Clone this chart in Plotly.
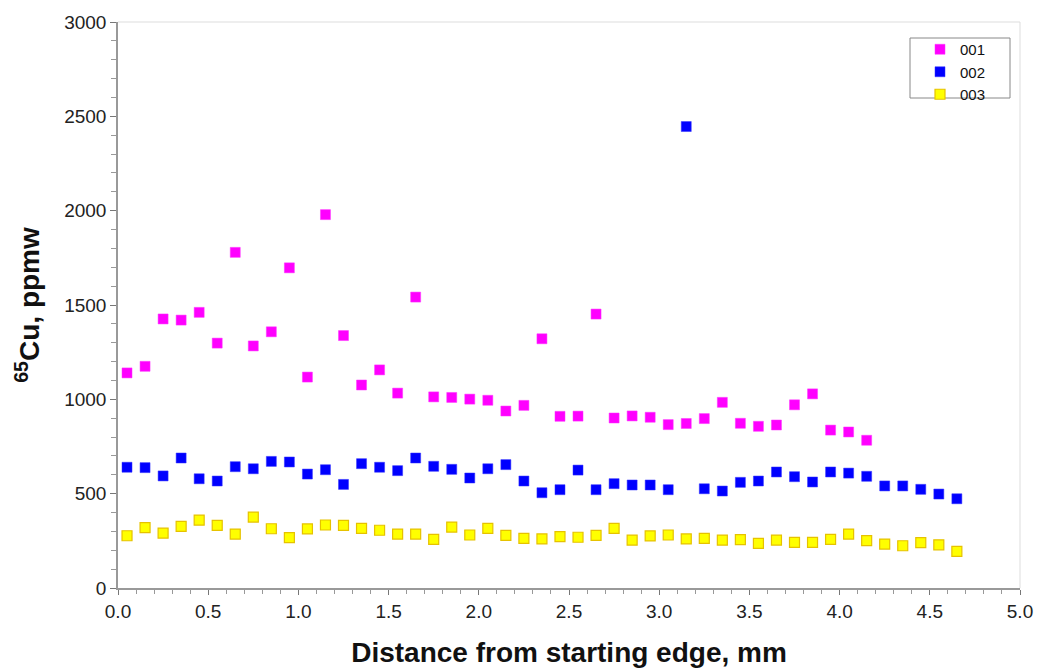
import plotly.graph_objects as go

distance_mm = [round(0.05 + 0.1 * i, 2) for i in range(47)]

cu65_001 = [1140, 1175, 1426, 1420, 1461, 1298, 1779, 1283, 1358, 1697,
            1118, 1979, 1338, 1076, 1156, 1033, 1542, 1013, 1010, 1001,
            995, 938, 968, 1321, 910, 911, 1452, 901, 912, 905,
            866, 872, 898, 984, 873, 857, 864, 971, 1029, 837,
            827, 783]

cu65_002 = [640, 638, 594, 689, 579, 567, 643, 632, 671, 668,
            604, 627, 549, 659, 640, 622, 689, 645, 629, 583,
            632, 654, 567, 505, 521, 625, 521, 553, 546, 546,
            521, 2446, 526, 514, 560, 567, 615, 590, 562, 615,
            609, 592, 541, 541, 523, 498, 473]

cu65_003 = [277, 320, 291, 327, 360, 332, 286, 376, 314, 267,
            313, 334, 332, 316, 306, 286, 286, 258, 323, 281,
            316, 279, 263, 260, 272, 269, 279, 316, 254, 276,
            281, 260, 263, 254, 256, 237, 254, 242, 242, 258,
            286, 251, 233, 224, 240, 229, 194]

series_names = ["001", "002", "003"]

fig = go.Figure()
fig.add_trace(go.Scatter(
    x=distance_mm[:len(cu65_001)], y=cu65_001, mode="markers", name=series_names[0],
    marker=dict(symbol="square", size=10, color="#FF00FF",
                line=dict(color="#FF33FF", width=0.5))))
fig.add_trace(go.Scatter(
    x=distance_mm[:len(cu65_002)], y=cu65_002, mode="markers", name=series_names[1],
    marker=dict(symbol="square", size=10, color="#0000FF",
                line=dict(color="#3333FF", width=0.5))))
fig.add_trace(go.Scatter(
    x=distance_mm[:len(cu65_003)], y=cu65_003, mode="markers", name=series_names[2],
    marker=dict(symbol="square", size=10, color="#FFFF00",
                line=dict(color="#E6C200", width=1.2))))

axis_font = dict(family="Liberation Sans, Arial, sans-serif", size=19, color="#222222")

fig.update_layout(
    width=1040, height=670,
    margin=dict(l=118, r=20, t=22, b=82),
    paper_bgcolor="white", plot_bgcolor="white",
    font=dict(family="Liberation Sans, Arial, sans-serif", color="#222222"),
    showlegend=True,
    legend=dict(x=(932 - 118) / 902, y=(588 - 33) / 566, xanchor="left", yanchor="top",
                borderwidth=0, bgcolor="rgba(0,0,0,0)",
                font=dict(size=15, color="#111111"),
                itemwidth=30, tracegroupgap=0, indentation=-12),
    xaxis=dict(
        range=[0, 5.0], dtick=0.5, tick0=0, tickformat=".1f",
        showgrid=False, zeroline=False, automargin=False,
        showline=True, linecolor="#999999", linewidth=1.5, mirror=False,
        ticks="outside", ticklen=5, tickcolor="#777777",
        minor=dict(dtick=0.1, ticks="outside", ticklen=4, tickcolor="#999999", showgrid=False),
        tickfont=axis_font,
        title=dict(text="<b>Distance from starting edge, mm</b>",
                   font=dict(size=28, color="#111111"), standoff=22),
    ),
    yaxis=dict(
        range=[0, 3000], dtick=500, tick0=0,
        showgrid=False, zeroline=False, automargin=False,
        showline=True, linecolor="#999999", linewidth=1.5,
        ticks="outside", ticklen=6, tickcolor="#777777",
        minor=dict(dtick=100, ticks="outside", ticklen=5, tickcolor="#999999", showgrid=False),
        tickfont=axis_font,
        title=dict(text="<b><sup>65</sup>Cu, ppmw</b>",
                   font=dict(size=28, color="#111111"), standoff=16),
    ),
)

# light frame on top and right of plot area
fig.add_shape(type="line", xref="paper", yref="paper", x0=0, x1=1, y0=1, y1=1,
              line=dict(color="#DDDDDD", width=1))
fig.add_shape(type="line", xref="paper", yref="paper", x0=1, x1=1, y0=0, y1=1,
              line=dict(color="#DDDDDD", width=1))
# legend box
fig.add_shape(type="rect", xref="paper", yref="paper",
              x0=(910 - 118) / 902, x1=(1010 - 118) / 902,
              y0=(588 - 98) / 566, y1=(588 - 38) / 566,
              line=dict(color="#888888", width=1), fillcolor="rgba(0,0,0,0)")

fig.write_html("out.html", config={"displayModeBar": False},
               post_script="document.body.style.margin='0';")
